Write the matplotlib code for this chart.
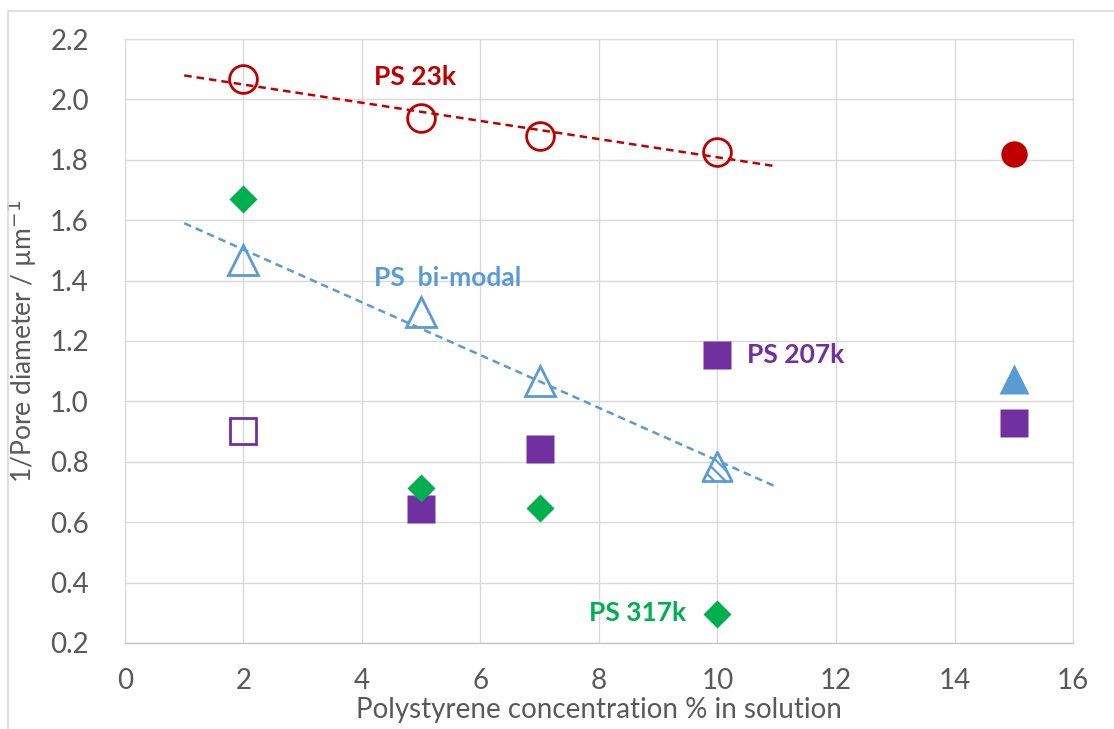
import numpy as np
import matplotlib.pyplot as plt
from matplotlib.patches import Rectangle

plt.rcParams['font.family'] = ['Lato', 'DejaVu Sans']
plt.rcParams['hatch.linewidth'] = 1.6

RED = '#C00000'
BLUE = '#5B9BD5'
PURPLE = '#7030A0'
GREEN = '#00B050'

# PS 23k
x_23k = [2, 5, 7, 10]
y_23k = [2.068, 1.940, 1.880, 1.827]
x_23k_15 = [15]
y_23k_15 = [1.820]

# PS bi-modal
x_bi = [2, 5, 7]
y_bi = [1.468, 1.296, 1.066]
x_bi_10 = [10]
y_bi_10 = [0.783]
x_bi_15 = [15]
y_bi_15 = [1.073]

# PS 207k
x_207k_open = [2]
y_207k_open = [0.903]
x_207k = [5, 7, 10, 15]
y_207k = [0.643, 0.841, 1.155, 0.927]

# PS 317k
x_317k = [2, 5, 7, 10]
y_317k = [1.671, 0.712, 0.646, 0.296]

xticks = np.arange(0, 17, 2)
yticks = np.arange(0.2, 2.21, 0.2)

fig = plt.figure(figsize=(11.14, 7.29), dpi=100)
ax = fig.add_axes([0.1122, 0.118, 0.8510, 0.8285])

# chart frame
fig.patches.append(Rectangle((8 / 1114, -0.1), 1.2, 1 - 11 / 729 + 0.1,
                             transform=fig.transFigure, fill=False,
                             edgecolor='#d9d9d9', lw=1.2))

# linear trend lines over 1..11
xt = np.array([1, 11])
x_bi_all = x_bi + x_bi_10
y_bi_all = y_bi + y_bi_10
p_red = np.polyfit(x_23k, y_23k, 1)
p_blue = np.polyfit(x_bi_all, y_bi_all, 1)
ax.plot(xt, np.polyval(p_red, xt), ls=(0, (3, 2)), color=RED, lw=1.8, zorder=2)
ax.plot(xt, np.polyval(p_blue, xt), ls=(0, (3, 2)), color=BLUE, lw=1.8, zorder=2)

# PS 23k
ax.plot(x_23k, y_23k, 'o', ms=20, mfc='none', mec=RED, mew=2, zorder=3)
ax.plot(x_23k_15, y_23k_15, 'o', ms=19, color=RED, mec='none', zorder=3)

# PS bi-modal
ax.plot(x_bi, y_bi, '^', ms=21, mfc='none', mec=BLUE, mew=2, zorder=3)
ax.scatter(x_bi_10, y_bi_10, marker='^', s=21 ** 2, facecolor='white',
           edgecolor=BLUE, linewidth=2, hatch='\\\\\\', zorder=3)
ax.plot(x_bi_15, y_bi_15, '^', ms=21, color=BLUE, mec='none', zorder=3)

# PS 207k
ax.plot(x_207k_open, y_207k_open, 's', ms=19, mfc='none', mec=PURPLE, mew=2, zorder=3)
ax.plot(x_207k, y_207k, 's', ms=19.5, color=PURPLE, mec='none', zorder=3)

# PS 317k
ax.plot(x_317k, y_317k, 'D', ms=14, color=GREEN, mec='none', zorder=3)

# series labels
lab = dict(fontsize=19, fontweight='bold', va='center', ha='left')
ax.text(4.2, 2.074, 'PS 23k', color=RED, **lab)
ax.text(4.2, 1.41, 'PS  bi-modal', color=BLUE, **lab)
ax.text(10.5, 1.152, 'PS 207k', color=PURPLE, **lab)
ax.text(7.83, 0.299, 'PS 317k', color=GREEN, **lab)

ax.set_xlim(0, 16)
ax.set_ylim(0.2, 2.2)
ax.set_xticks(xticks)
ax.set_yticks(yticks)
ax.set_yticklabels([f'{v:.1f}' for v in yticks])
ax.tick_params(length=0, labelsize=20, labelcolor='#595959')
ax.tick_params(axis='x', pad=18)
ax.tick_params(axis='y', pad=26)
ax.grid(True, color='#d9d9d9', lw=1)
ax.set_axisbelow(True)
for side in ['top', 'right', 'left']:
    ax.spines[side].set_color('#d9d9d9')
ax.spines['bottom'].set_color('#bfbfbf')

ax.set_xlabel('Polystyrene concentration % in solution', fontsize=20,
              color='#595959', labelpad=2)
ax.set_ylabel('1/Pore diameter / µm$^{-1}$', fontsize=19, color='#595959',
              labelpad=8)

fig.savefig('out.png', dpi=100)
